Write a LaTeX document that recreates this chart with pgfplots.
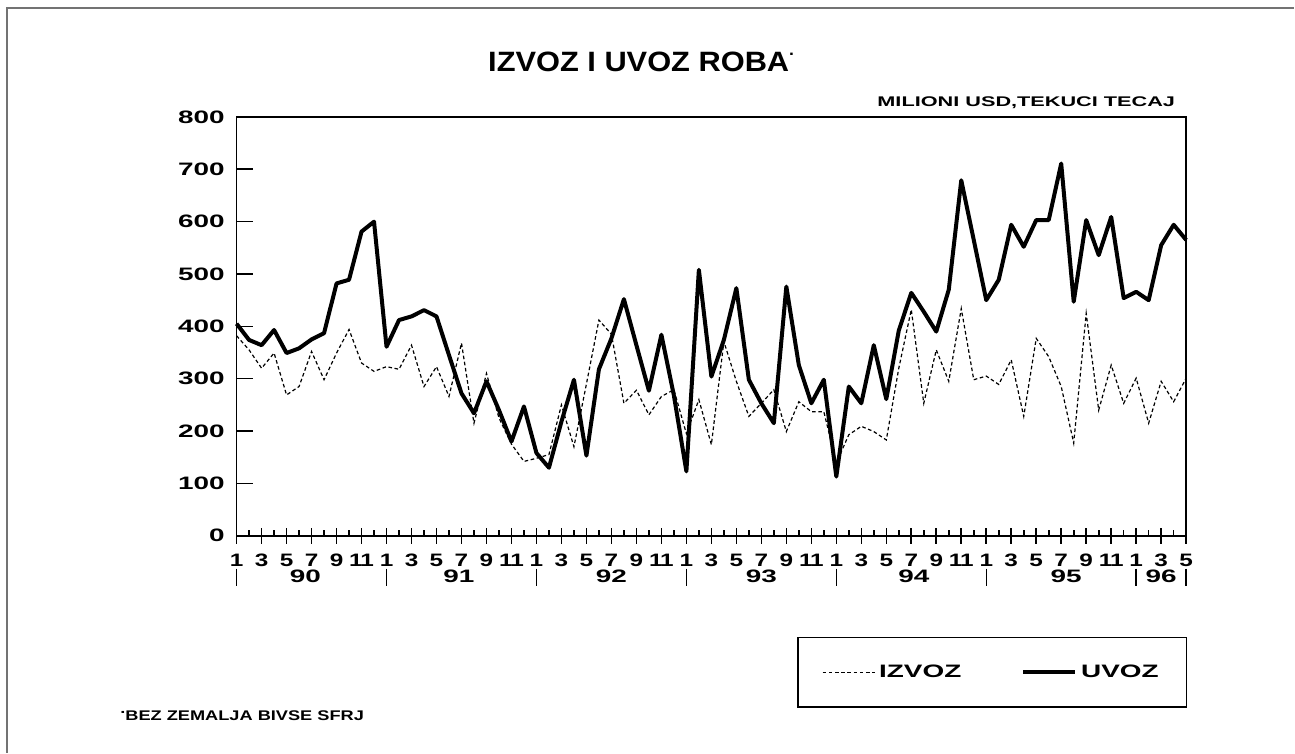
\documentclass[border=0pt]{standalone}
\usepackage{pgfplots}
\pgfplotsset{compat=1.18}
\usepackage{pgfplotstable}
\usepackage{fontspec}
\setmainfont{Liberation Sans}
\newfontfamily\wide[FakeStretch=1.55]{Liberation Sans}
\newfontfamily\xwide[FakeStretch=1.35]{Liberation Sans}
\newfontfamily\fwide[FakeStretch=1.3]{Liberation Sans}
\newfontfamily\titlefont[FakeStretch=1.1]{Liberation Sans}

\pgfplotstableread{
i izvoz uvoz
0 382 405
1 355 374
2 320 364
3 349 393
4 269 349
5 285 358
6 352 375
7 298 387
8 349 482
9 394 489
10 330 581
11 314 600
12 323 361
13 318 412
14 364 419
15 285 431
16 323 419
17 266 345
18 368 272
19 215 234
20 310 295
21 225 240
22 175 180
23 142 247
24 148 158
25 155 130
26 250 218
27 170 298
28 290 153
29 412 318
30 385 377
31 253 452
32 278 364
33 231 277
34 266 384
35 279 268
36 195 123
37 260 508
38 174 304
39 371 374
40 295 473
41 228 298
42 253 253
43 279 215
44 199 476
45 256 326
46 237 253
47 237 298
48 139 113
49 193 285
50 209 253
51 199 364
52 183 261
53 320 392
54 432 464
55 253 428
56 355 390
57 295 470
58 434 679
59 298 565
60 305 450
61 289 489
62 336 594
63 228 552
64 377 603
65 342 603
66 285 711
67 177 447
68 425 603
69 240 536
70 326 609
71 253 454
72 301 466
73 215 450
74 295 555
75 256 594
76 301 565
}\datatable

\def\eleven{1\kern-1.2pt1}

\begin{document}
\begin{tikzpicture}
% page extent (1px = 0.5pt)
\path (0pt,0pt) rectangle (647.5pt,376.5pt);
% outer frame (top and left)
\draw[black!55, line width=0.6pt] (3.5pt,0pt) -- (3.5pt,372.5pt) -- (647.5pt,372.5pt);
% title
\node[font=\titlefont\bfseries\fontsize{14}{16}\selectfont] at (319.5pt,345.5pt)
  {IZVOZ I UVOZ ROBA\rlap{\raisebox{1.1ex}{\fontsize{8}{8}\selectfont .}}};
% unit
\node[anchor=east, inner sep=0pt, font=\wide\bfseries\fontsize{7}{8}\selectfont] at (588pt,325pt)
  {MILIONI USD,TEKUCI TECAJ};
% footnote
\node[anchor=west, inner sep=0pt, font=\fwide\bfseries\fontsize{7}{8}\selectfont] at (60pt,18.5pt)
  {\raisebox{0.9ex}{.}BEZ ZEMALJA BIVSE SFRJ};

\begin{axis}[
  at={(118.35pt,108.5pt)}, anchor=south west,
  scale only axis, width=475pt, height=209.5pt,
  xmin=0, xmax=76, ymin=0, ymax=800,
  clip=false,
  axis line style={line width=0.9pt},
  /pgf/number format/assume math mode=true,
  ytick={0,100,...,800},
  ytick pos=left,
  ytick align=inside,
  major tick length=8pt,
  every tick/.style={black, line width=0.8pt},
  yticklabel style={font=\wide\bfseries\fontsize{9}{10}\selectfont, xshift=-2.5pt},
  xtick={0,2,...,76},
  xticklabels={1,3,5,7,9,\eleven,1,3,5,7,9,\eleven,1,3,5,7,9,\eleven,1,3,5,7,9,\eleven,1,3,5,7,9,\eleven,1,3,5,7,9,\eleven,1,3,5},
  minor xtick={1,3,...,75},
  xtick pos=lower,
  xtick align=center,
  minor x tick style={yshift=1.4pt},
  minor tick length=2.8pt,
  xticklabel style={font=\xwide\bfseries\fontsize{9}{10}\selectfont, yshift=-1.5pt},
  legend style={at={(1.0014,-0.241)}, anchor=north east, draw=black, line width=0.8pt,
    inner xsep=12pt, inner ysep=11.5pt,
    font=\wide\bfseries\fontsize{9}{10}\selectfont,
    /tikz/every even column/.append style={column sep=28pt}},
  legend columns=2,
  legend image code/.code={\draw[#1] (0pt,0pt) -- (26pt,0pt);},
]
\addplot[black, line width=0.6pt, dash pattern=on 1.8pt off 1.3pt] table[x=i, y=izvoz] {\datatable};
\addlegendentry{IZVOZ}
\addplot[black, line width=2pt, line join=round] table[x=i, y=uvoz] {\datatable};
\addlegendentry{UVOZ}

% year separators
\draw[line width=0.75pt] ([yshift=-16.5pt]axis cs:0,0) -- ([yshift=-25pt]axis cs:0,0);
\draw[line width=0.75pt] ([yshift=-16.5pt]axis cs:12,0) -- ([yshift=-25pt]axis cs:12,0);
\draw[line width=0.75pt] ([yshift=-16.5pt]axis cs:24,0) -- ([yshift=-25pt]axis cs:24,0);
\draw[line width=0.75pt] ([yshift=-16.5pt]axis cs:36,0) -- ([yshift=-25pt]axis cs:36,0);
\draw[line width=0.75pt] ([yshift=-16.5pt]axis cs:48,0) -- ([yshift=-25pt]axis cs:48,0);
\draw[line width=0.75pt] ([yshift=-16.5pt]axis cs:60,0) -- ([yshift=-25pt]axis cs:60,0);
\draw[line width=0.75pt] ([yshift=-16.5pt]axis cs:72,0) -- ([yshift=-25pt]axis cs:72,0);
\draw[line width=0.75pt] ([yshift=-16.5pt]axis cs:76,0) -- ([yshift=-25pt]axis cs:76,0);
% year labels
\node[font=\wide\bfseries\fontsize{9}{10}\selectfont] at ([yshift=-20.5pt]axis cs:5.5,0) {90};
\node[font=\wide\bfseries\fontsize{9}{10}\selectfont] at ([yshift=-20.5pt]axis cs:17.8,0) {91};
\node[font=\wide\bfseries\fontsize{9}{10}\selectfont] at ([yshift=-20.5pt]axis cs:30,0) {92};
\node[font=\wide\bfseries\fontsize{9}{10}\selectfont] at ([yshift=-20.5pt]axis cs:42,0) {93};
\node[font=\wide\bfseries\fontsize{9}{10}\selectfont] at ([yshift=-20.5pt]axis cs:54.2,0) {94};
\node[font=\wide\bfseries\fontsize{9}{10}\selectfont] at ([yshift=-20.5pt]axis cs:66.4,0) {95};
\node[font=\wide\bfseries\fontsize{9}{10}\selectfont] at ([yshift=-20.5pt]axis cs:74,0) {96};
\end{axis}
\end{tikzpicture}
\end{document}
